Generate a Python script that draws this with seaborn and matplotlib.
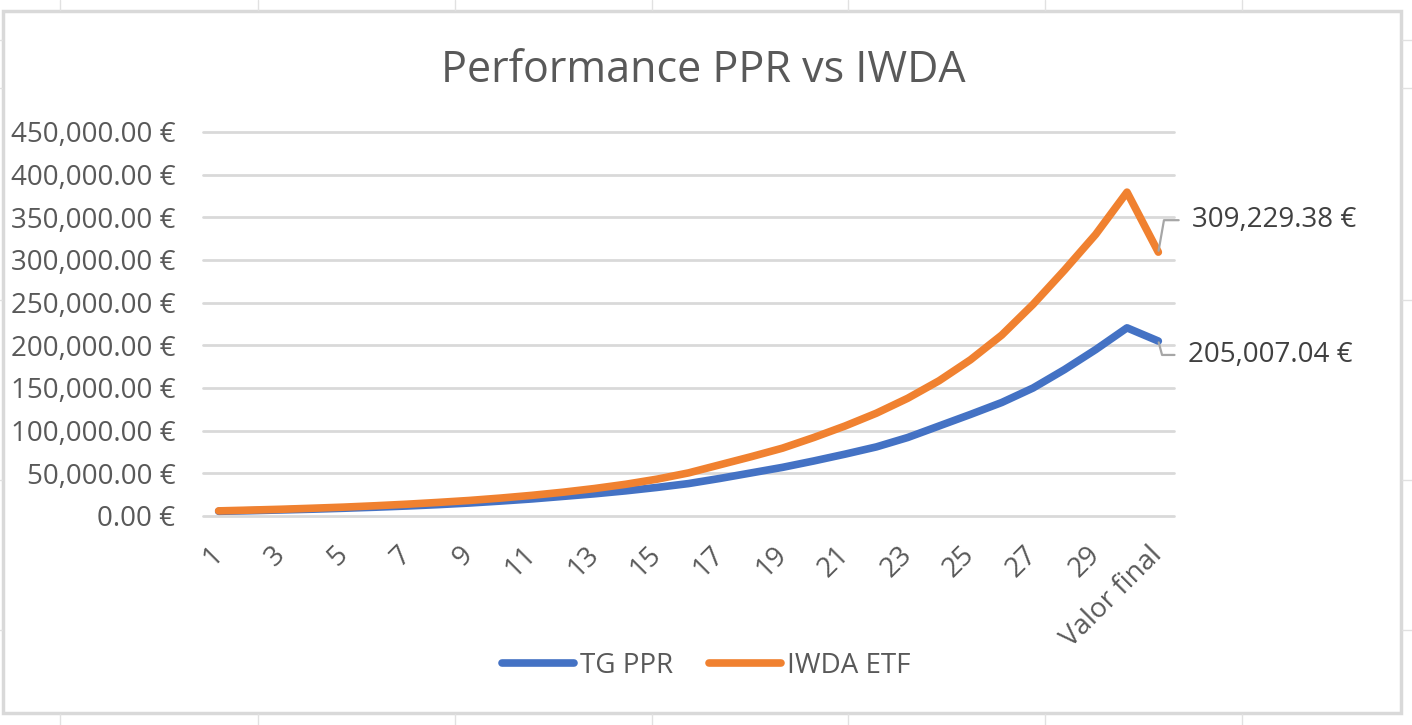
import numpy as np
import pandas as pd
import matplotlib.pyplot as plt
import seaborn as sns
from matplotlib.lines import Line2D
from matplotlib.patches import Rectangle
from matplotlib.ticker import FuncFormatter, MultipleLocator

# values
categories = [str(i) for i in range(1, 31)] + ['Valor final']
tg_ppr = [5500, 6200, 7100, 8000, 9100, 10300, 11700, 13300, 15200, 17500,
          20000, 23000, 26000, 29500, 33500, 38000, 44000, 50500, 57000, 64500,
          72500, 81000, 92000, 105500, 119000, 133000, 150000, 171500, 195000, 220500,
          205007.04]
iwda_etf = [6000, 6900, 7900, 9100, 10400, 12000, 13800, 15900, 18200, 21000,
            24200, 27900, 32200, 37200, 43200, 50500, 60000, 69500, 79500, 92000,
            105500, 120500, 138000, 158500, 183000, 212000, 248000, 288000, 330000, 379500,
            309229.38]
series_names = ['TG PPR', 'IWDA ETF']
colors = {'TG PPR': '#4472C4', 'IWDA ETF': '#F08130'}

n = len(categories)
df = pd.DataFrame({
    'pos': list(range(n)) * 2,
    'valor': tg_ppr + iwda_etf,
    'serie': [series_names[0]] * n + [series_names[1]] * n,
})

sns.set_theme(style='white')
plt.rcParams['font.family'] = ['Open Sans', 'DejaVu Sans']

W, H = 1412, 725
fig = plt.figure(figsize=(W / 100, H / 100), dpi=100)
fig.patch.set_facecolor('white')

# faint spreadsheet cells around the chart
for xp in [60, 258, 455, 652, 848, 1045, 1242]:
    fig.add_artist(Line2D([xp / W, xp / W], [1 - 10 / H, 1], color='#E1E1E1', lw=1))
    fig.add_artist(Line2D([xp / W, xp / W], [0, 1 - 714 / H], color='#E1E1E1', lw=1))
for yp in [40, 88, 300, 480, 630]:
    fig.add_artist(Line2D([0, 2 / W], [1 - yp / H, 1 - yp / H], color='#E1E1E1', lw=1))
    fig.add_artist(Line2D([1402 / W, 1], [1 - yp / H, 1 - yp / H], color='#E1E1E1', lw=1))

# chart border
fig.add_artist(Rectangle((3 / W, 1 - 713 / H), 1398 / W, 702 / H, transform=fig.transFigure,
                         fill=True, fc='white', ec='#D9D9D9', lw=2.5, zorder=0))

ax = fig.add_axes([203 / W, 1 - 516 / H, (1174 - 203) / W, (516 - 132) / H])
ax.set_facecolor('none')

sns.lineplot(data=df, x='pos', y='valor', hue='serie', hue_order=series_names,
             palette=colors, linewidth=5.5, ax=ax, solid_capstyle='round',
             solid_joinstyle='round', zorder=3)

ax.set_xlim(-0.5, n - 0.5)
ax.set_ylim(0, 450000)
ax.yaxis.set_major_locator(MultipleLocator(50000))
ax.yaxis.set_major_formatter(FuncFormatter(lambda v, p: f'{v:,.2f} €'))
ax.grid(axis='y', color='#D9D9D9', lw=2)
ax.grid(axis='x', visible=False)
for gl in ax.get_ygridlines():
    gl.set_clip_on(False)
for s in ax.spines.values():
    s.set_visible(False)

tick_pos = list(range(0, n, 2))
ax.set_xticks(tick_pos)
ax.set_xticklabels([categories[i] for i in tick_pos], rotation=45, ha='right',
                   va='center', rotation_mode='anchor')
ax.tick_params(axis='x', length=0, pad=25, labelsize=20, labelcolor='#595959')
ax.tick_params(axis='y', length=0, pad=20, labelsize=20, labelcolor='#595959')
ax.set_xlabel('')
ax.set_ylabel('')

# data labels on the last point
ax.annotate(f'{iwda_etf[-1]:,.2f} €', xy=(n - 1, iwda_etf[-1]), xytext=(24, 23),
            textcoords='offset points', ha='left', va='center', fontsize=20, color='#404040',
            arrowprops=dict(arrowstyle='-', color='#A6A6A6', lw=1.6, relpos=(0, 0.5),
                            shrinkA=7, shrinkB=1,
                            connectionstyle='angle,angleA=0,angleB=80'))
ax.annotate(f'{tg_ppr[-1]:,.2f} €', xy=(n - 1, tg_ppr[-1]), xytext=(21, -10),
            textcoords='offset points', ha='left', va='center', fontsize=20, color='#404040',
            arrowprops=dict(arrowstyle='-', color='#A6A6A6', lw=1.6, relpos=(0, 0.5),
                            shrinkA=7, shrinkB=1,
                            connectionstyle='angle,angleA=0,angleB=-75'))

# legend at the bottom
handles, labels = ax.get_legend_handles_labels()
ax.legend(handles, labels, loc='center', bbox_to_anchor=(706 / W, 1 - 666 / H),
          bbox_transform=fig.transFigure, ncol=2, frameon=False, fontsize=20,
          handlelength=2.6, handletextpad=0.2, columnspacing=1.3, labelcolor='#595959')

fig.text(703 / W, 1 - 71 / H, 'Performance PPR vs IWDA', ha='center', va='center',
         fontsize=31, color='#595959')

fig.savefig('out.png', dpi=100)
